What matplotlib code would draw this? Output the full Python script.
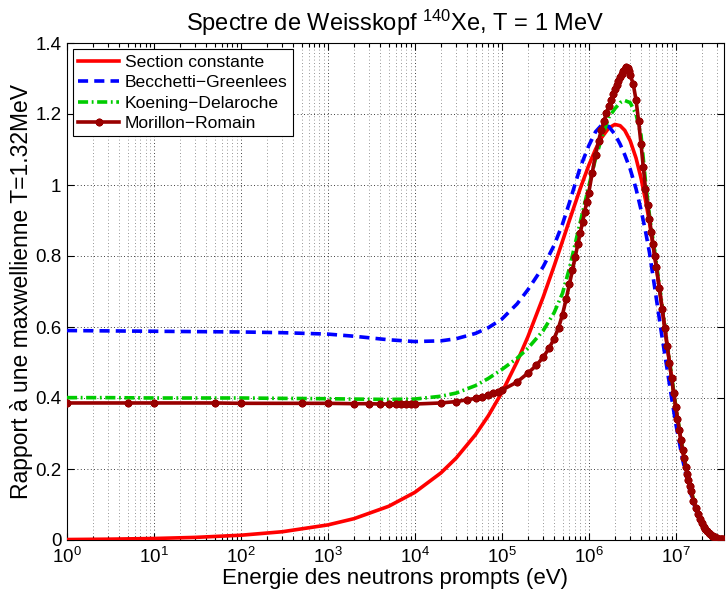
import matplotlib
matplotlib.use('Agg')
import matplotlib.pyplot as plt
from matplotlib.ticker import LogLocator, NullFormatter, FixedLocator, FuncFormatter

plt.rcParams['font.family'] = ['Liberation Sans', 'DejaVu Sans']
plt.rcParams['mathtext.fontset'] = 'custom'
plt.rcParams['mathtext.rm'] = 'Liberation Sans'
plt.rcParams['mathtext.it'] = 'Liberation Sans:italic'
plt.rcParams['mathtext.default'] = 'regular'

# ---- data (energies in eV) ----
energy_ev = [1, 3, 10, 30, 100, 300, 1e3, 2e3, 5e3, 1e4, 2e4, 3e4, 5e4, 7e4,
             1e5, 1.5e5, 2e5, 3e5, 4e5, 5e5, 6e5, 8e5, 1e6, 1.2e6, 1.4e6, 1.7e6,
             2e6, 2.3e6, 2.6e6, 3e6, 3.5e6, 4e6, 4.5e6, 5e6, 6e6, 7e6, 8e6, 9e6,
             1e7, 1.2e7, 1.4e7, 1.7e7, 2e7, 2.5e7, 3e7, 3.6e7]

section_constante = [0.00134, 0.00233, 0.00425, 0.00736, 0.01344, 0.02328, 0.0425,
                     0.0601, 0.0949, 0.1341, 0.1891, 0.2311, 0.2969, 0.3496, 0.4148,
                     0.5020, 0.5726, 0.6845, 0.7715, 0.8419, 0.9002, 0.9902, 1.0547,
                     1.1007, 1.1326, 1.1605, 1.1705, 1.1671, 1.1539, 1.1249, 1.0763,
                     1.0193, 0.9578, 0.8943, 0.7687, 0.6516, 0.5466, 0.4549, 0.3764,
                     0.2539, 0.1689, 0.0899, 0.0471, 0.0157, 0.0051, 0.0013]

becchetti_greenlees = [0.590, 0.589, 0.588, 0.587, 0.586, 0.584, 0.580, 0.574, 0.564,
                       0.559, 0.561, 0.567, 0.582, 0.598, 0.622, 0.665, 0.705, 0.770,
                       0.830, 0.890, 0.950, 1.050, 1.110, 1.150, 1.168, 1.165, 1.143,
                       1.115, 1.085, 1.045, 0.990, 0.930, 0.870, 0.810, 0.680, 0.570,
                       0.480, 0.400, 0.330, 0.228, 0.155, 0.085, 0.045, 0.015, 0.0049,
                       0.0013]

koening_delaroche = [0.401, 0.401, 0.400, 0.400, 0.400, 0.399, 0.398, 0.397, 0.396,
                     0.397, 0.405, 0.414, 0.435, 0.455, 0.480, 0.512, 0.540, 0.590,
                     0.640, 0.695, 0.765, 0.895, 0.995, 1.075, 1.130, 1.190, 1.215,
                     1.232, 1.238, 1.232, 1.200, 1.140, 1.010, 0.915, 0.780, 0.660,
                     0.553, 0.460, 0.380, 0.256, 0.170, 0.090, 0.047, 0.0157, 0.0051,
                     0.0013]

energy_mr_ev = [1, 5, 10, 50, 100, 500, 1e3, 2e3, 3e3, 4e3, 5e3, 6e3, 7e3, 8e3, 9e3,
                1e4, 2e4, 3e4, 4e4, 5e4, 6e4, 7e4, 8e4, 9e4, 1e5,
                1.5e5, 2e5, 2.5e5, 3e5, 3.5e5, 4e5, 4.5e5, 5e5, 5.5e5, 6e5, 6.5e5,
                7e5, 7.5e5, 8e5, 8.5e5, 9e5, 9.5e5, 1e6,
                1.1e6, 1.2e6, 1.3e6, 1.4e6, 1.5e6, 1.6e6, 1.7e6, 1.8e6, 1.9e6, 2.0e6,
                2.1e6, 2.2e6, 2.3e6, 2.4e6, 2.5e6, 2.6e6, 2.7e6, 2.8e6, 2.9e6, 3.0e6,
                3.25e6, 3.5e6, 3.75e6, 4.0e6, 4.25e6, 4.5e6, 4.75e6, 5.0e6, 5.25e6,
                5.5e6, 5.75e6, 6.0e6,
                6.5e6, 7e6, 7.5e6, 8e6, 8.5e6, 9e6, 9.5e6, 1e7, 1.05e7, 1.1e7, 1.15e7,
                1.2e7, 1.25e7, 1.3e7, 1.35e7, 1.4e7, 1.45e7, 1.5e7,
                1.6e7, 1.7e7, 1.8e7, 1.9e7, 2.0e7, 2.1e7, 2.2e7, 2.3e7, 2.4e7, 2.5e7,
                2.6e7, 2.7e7, 2.8e7, 2.9e7, 3.0e7, 3.1e7, 3.2e7, 3.3e7, 3.4e7, 3.5e7,
                3.6e7]

morillon_romain = [0.386, 0.386, 0.386, 0.386, 0.385, 0.385, 0.385, 0.384, 0.384, 0.383,
                   0.383, 0.383, 0.383, 0.383, 0.383, 0.383, 0.386, 0.390, 0.395, 0.399,
                   0.404, 0.409, 0.414, 0.418, 0.422,
                   0.445, 0.470, 0.492, 0.515, 0.540, 0.567, 0.598, 0.635, 0.678, 0.720,
                   0.760, 0.798, 0.833, 0.865, 0.895, 0.925, 0.952, 0.977,
                   1.035, 1.085, 1.125, 1.155, 1.180, 1.203, 1.222, 1.240, 1.256, 1.270,
                   1.282, 1.293, 1.303, 1.312, 1.320, 1.327, 1.332, 1.330, 1.322, 1.310,
                   1.285, 1.240, 1.180, 1.115, 1.050, 0.990, 0.945, 0.905, 0.868, 0.833,
                   0.800, 0.769,
                   0.709, 0.652, 0.598, 0.547, 0.499, 0.455, 0.414, 0.376, 0.342, 0.310,
                   0.281, 0.254, 0.230, 0.207, 0.187, 0.169, 0.152, 0.137,
                   0.111, 0.090, 0.073, 0.0585, 0.047, 0.038, 0.030, 0.024, 0.020, 0.0157,
                   0.0125, 0.0100, 0.0080, 0.0064, 0.0051, 0.0041, 0.0033, 0.0026, 0.0021,
                   0.0016, 0.0013]

labels = ['Section constante', 'Becchetti\u2212Greenlees',
          'Koening\u2212Delaroche', 'Morillon\u2212Romain']
y_ticks = [0, 0.2, 0.4, 0.6, 0.8, 1.0, 1.2, 1.4]

# ---- figure ----
fig = plt.figure(figsize=(7.26, 5.97), dpi=100)
ax = fig.add_axes([67 / 726, 57 / 597, 657 / 726, 497 / 597])

ax.plot(energy_ev, section_constante, color='#ff0000', lw=2.6, label=labels[0], zorder=3)
ax.plot(energy_ev, becchetti_greenlees, color='#0000ff', lw=2.6, dashes=(2.8, 1.7),
        label=labels[1], zorder=3)
ax.plot(energy_ev, koening_delaroche, color='#00cc00', lw=2.6,
        dashes=(2.8, 1.0, 0.5, 1.0), label=labels[2], zorder=3)
ax.plot(energy_mr_ev, morillon_romain, color='#990000', lw=2.6, marker=(8, 2, 0),
        ms=5.5, mew=1.7, label=labels[3], zorder=4)

ax.set_xscale('log')
ax.set_xlim(1, 3.6e7)
ax.set_ylim(0, 1.4)
ax.xaxis.set_major_locator(LogLocator(base=10, numticks=20))
ax.xaxis.set_minor_locator(LogLocator(base=10, subs=range(2, 10), numticks=200))
ax.xaxis.set_minor_formatter(NullFormatter())
ax.yaxis.set_major_locator(FixedLocator(y_ticks))
ax.yaxis.set_major_formatter(FuncFormatter(lambda v, p: '%g' % v))

ax.tick_params(which='both', direction='in', top=True, right=True, labelsize=13.5,
               width=0.8, colors='k')
ax.tick_params(which='major', length=5)
ax.tick_params(which='minor', length=3)
ax.tick_params(axis='x', which='major', pad=5)
ax.tick_params(axis='y', which='major', pad=4)

ax.grid(True, which='major', axis='both', color='k', lw=0.6, ls=(0, (1, 3)))
ax.grid(True, which='minor', axis='x', color='0.45', lw=0.6, ls=(0, (1, 3)))
ax.set_axisbelow(True)
for s in ax.spines.values():
    s.set_linewidth(0.8)

ax.set_title('Spectre de Weisskopf $^{140}$Xe, T = 1 MeV', fontsize=17, pad=9)
ax.set_xlabel('Energie des neutrons prompts (eV)', fontsize=16, labelpad=1)
ax.set_ylabel('Rapport \u00e0 une maxwellienne T=1.32MeV', fontsize=16.5)
ax.yaxis.set_label_coords(-0.052, 0.5)

leg = ax.legend(loc='upper left', fontsize=12.6, fancybox=False, framealpha=1,
                edgecolor='k', handlelength=2.3, borderaxespad=0.35,
                labelspacing=0.3, handletextpad=0.35, borderpad=0.3)
leg.get_frame().set_linewidth(0.8)

fig.savefig('out.png', dpi=100)
